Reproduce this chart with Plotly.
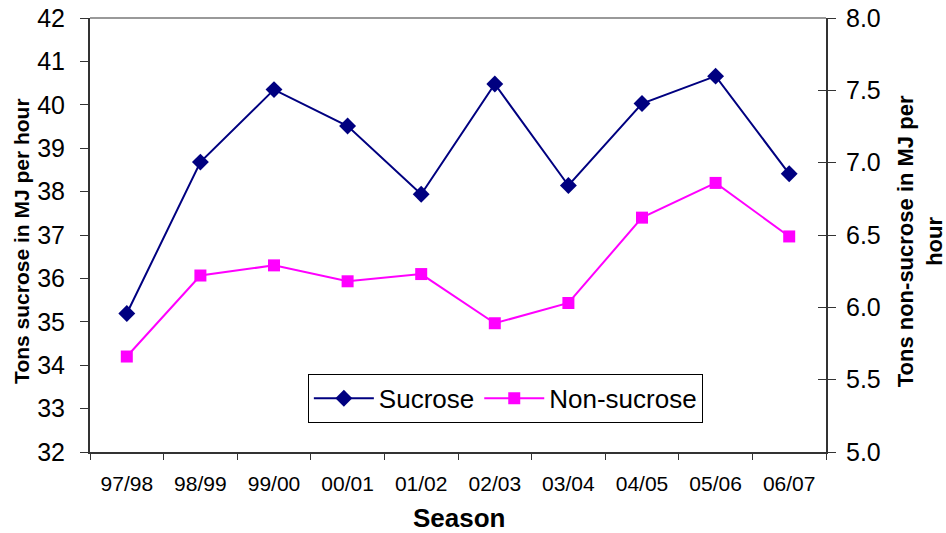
import plotly.graph_objects as go

# dados
seasons = ["97/98", "98/99", "99/00", "00/01", "01/02", "02/03", "03/04", "04/05", "05/06", "06/07"]
sucrose = [35.19, 38.68, 40.35, 39.51, 37.94, 40.48, 38.14, 40.03, 40.66, 38.41]
non_sucrose = [5.66, 6.22, 6.29, 6.18, 6.23, 5.89, 6.03, 6.62, 6.86, 6.49]

fonte = "Liberation Sans, Arial, sans-serif"

fig = go.Figure()

fig.add_trace(go.Scatter(
    x=seasons, y=sucrose, name="Sucrose", mode="lines+markers",
    line=dict(color="#000080", width=2),
    marker=dict(symbol="diamond", size=13, color="#000080"),
))
fig.add_trace(go.Scatter(
    x=seasons, y=non_sucrose, name="Non-sucrose", mode="lines+markers",
    line=dict(color="#FF00FF", width=2),
    marker=dict(symbol="square", size=12, color="#FF00FF"),
    yaxis="y2",
))

fig.update_layout(
    width=946, height=533,
    margin=dict(l=90, r=120, t=18, b=81, autoexpand=False),
    paper_bgcolor="white", plot_bgcolor="white",
    font=dict(family=fonte, color="black"),
    showlegend=True,
    legend=dict(
        orientation="h", x=0.296, y=0.18, xanchor="left", yanchor="top",
        bordercolor="black", borderwidth=1, bgcolor="white",
        font=dict(size=26), itemwidth=60,
    ),
    xaxis=dict(
        type="category", range=[-0.5, len(seasons) - 0.5],
        showline=True, linecolor="#333", linewidth=2,
        ticks="outside", ticklen=6, tickcolor="#333", tickson="boundaries",
        tickfont=dict(size=21), showgrid=False, zeroline=False,
        ticklabelstandoff=12, automargin=False,
    ),
    yaxis=dict(
        range=[32, 42], dtick=1, showline=True, linecolor="#333", linewidth=2,
        ticks="outside", ticklen=8, tickcolor="#333",
        tickfont=dict(size=25), showgrid=False, zeroline=False,
        ticklabelstandoff=10, automargin=False,
    ),
    yaxis2=dict(
        range=[5, 8], dtick=0.5, tickformat=".1f", overlaying="y", side="right",
        showline=True, linecolor="#333", linewidth=2,
        ticks="outside", ticklen=8, tickcolor="#333",
        tickfont=dict(size=25), showgrid=False, zeroline=False,
        ticklabelstandoff=5, automargin=False,
    ),
    # so pra fazer o tick cruzado do eixo direito
    yaxis3=dict(
        range=[5, 8], dtick=0.5, overlaying="y", side="right",
        ticks="inside", ticklen=8, tickcolor="#333",
        showticklabels=False, showgrid=False, zeroline=False, showline=False,
        automargin=False,
    ),
)

# linha cinza em cima da área do gráfico
fig.add_shape(type="line", xref="paper", yref="paper", x0=0, x1=1, y0=1, y1=1,
              line=dict(color="#999", width=2))

# títulos dos eixos
fig.add_annotation(text="<b>Tons sucrose in MJ per hour</b>", textangle=-90,
                   xref="paper", yref="paper", x=-0.094, y=0.486,
                   xanchor="center", yanchor="middle", showarrow=False,
                   font=dict(size=21))
fig.add_annotation(text="<b>Tons non-sucrose in MJ per<br>hour</b>", textangle=-90,
                   xref="paper", yref="paper", x=1.128, y=0.486,
                   xanchor="center", yanchor="middle", showarrow=False,
                   font=dict(size=22))
fig.add_annotation(text="<b>Season</b>", xref="paper", yref="paper",
                   x=0.502, y=-0.152, xanchor="center", yanchor="middle",
                   showarrow=False, font=dict(size=26))

fig.add_trace(go.Scatter(x=[seasons[0]], y=[5], yaxis="y3", mode="markers",
                         marker=dict(opacity=0), showlegend=False, hoverinfo="skip"))

# tira a margem padrão do body pra não deslocar o gráfico
fig.write_html("out.html", config={"displayModeBar": False},
               post_script="document.body.style.margin='0';")
